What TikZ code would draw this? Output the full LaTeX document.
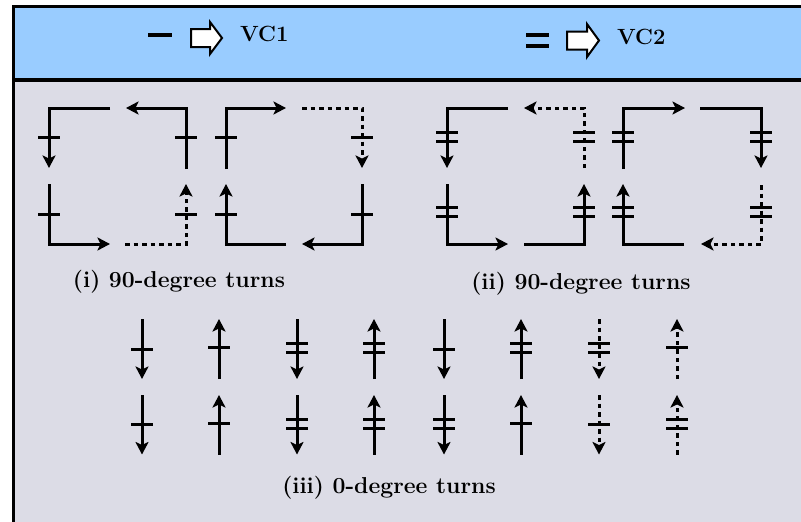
\documentclass[tikz,border=0pt]{standalone}
\usetikzlibrary{arrows.meta}
\definecolor{hdrblue}{RGB}{153,204,255}
\definecolor{bodygrey}{RGB}{220,220,230}
\newcommand{\xone}[2]{\draw[bar] (#1-11,#2) -- (#1+11,#2);}
\newcommand{\xtwo}[2]{\draw[bar] (#1-11,#2-4.6) -- (#1+11,#2-4.6); \draw[bar] (#1-11,#2+4.6) -- (#1+11,#2+4.6);}
\begin{document}
\begin{tikzpicture}[x=1pt,y=-1pt,
  ln/.style={line width=3pt},
  tip/.style={-{Stealth[length=12.5pt,width=13pt,inset=3pt]}},
  dotln/.style={dash pattern=on 4.5pt off 4pt},
  bar/.style={line width=3pt},
  lbl/.style={font=\fontsize{23}{27}\selectfont\bfseries, inner sep=0pt, anchor=base},
  hdr/.style={font=\fontsize{22}{26}\selectfont\bfseries, inner sep=0pt, anchor=base west},
  blockarrow/.style={fill=white, draw=black, line width=2pt, line join=miter}]
\useasboundingbox (0,0) rectangle (801,522);
\clip (0,0) rectangle (801,522);
% frame
\fill[bodygrey] (13.3,80) rectangle (810,530);
\fill[hdrblue] (13.3,6.7) rectangle (810,80);
\draw[line width=3.5pt] (810,6.7) -- (13.3,6.7) -- (13.3,530);
\draw[line width=4pt] (13.3,80) -- (810,80);
% header
\draw[line width=4pt] (148,34.7) -- (172,34.7);
\draw[blockarrow] (191,29) -- (210,29) -- (210,22) -- (222,38) -- (210,54) -- (210,47) -- (191,47) -- cycle;
\node[hdr] (vc1) at (240,41.7) {VC1};
\draw[line width=4pt] (526,35.3) -- (549,35.3);
\draw[line width=4pt] (526,45.5) -- (549,45.5);
\draw[blockarrow] (567,31.5) -- (587,31.5) -- (587,24) -- (599,40.5) -- (587,57) -- (587,49.5) -- (567,49.5) -- cycle;
\node[hdr] (vc2) at (617,45) {VC2};
% square 1
\draw[ln,tip] (110,108) -- (49,108) -- (49,168);
\draw[ln,tip] (186,169) -- (186,108) -- (126,108);
\draw[ln,tip] (49,184) -- (49,244) -- (110,244);
\draw[ln,tip,dotln] (125,244) -- (186,244) -- (186,184);
\xone{49}{137} \xone{186}{137} \xone{49}{214} \xone{186}{214}
% square 2
\draw[ln,tip] (226,169) -- (226,108) -- (286,108);
\draw[ln,tip,dotln] (302,108) -- (362,108) -- (362,168);
\draw[ln,tip] (286,244) -- (226,244) -- (226,184);
\draw[ln,tip] (362,184) -- (362,244) -- (302,244);
\xone{226}{137} \xone{362}{137} \xone{226}{214} \xone{362}{214}
% square 3
\draw[ln,tip] (508,108) -- (447,108) -- (447,168);
\draw[ln,tip,dotln] (584,168) -- (584,108) -- (524,108);
\draw[ln,tip] (447,184) -- (447,244) -- (508,244);
\draw[ln,tip] (524,244) -- (584,244) -- (584,184);
\xtwo{447}{137.2} \xtwo{584}{137.2} \xtwo{447}{212} \xtwo{584}{212}
% square 4
\draw[ln,tip] (623,169) -- (623,108) -- (685,108);
\draw[ln,tip] (700,108) -- (761,108) -- (761,168);
\draw[ln,tip] (684,244) -- (623,244) -- (623,184);
\draw[ln,tip,dotln] (761,185) -- (761,244) -- (701,244);
\xtwo{623}{137.2} \xtwo{761}{137.2} \xtwo{623}{212} \xtwo{761}{212}
% labels
\node[lbl] (l1) at (179,287) {(i) 90-degree turns};
\node[lbl] (l2) at (581,289) {(ii) 90-degree turns};
\node[lbl] (l3) at (389,493.3) {(iii) 0-degree turns};
% row 1
\draw[ln,tip] (142,319) -- (142,379); \xone{142}{349}
\draw[ln,tip] (219,379) -- (219,319); \xone{219}{347.5}
\draw[ln,tip] (297,319) -- (297,379); \xtwo{297}{348}
\draw[ln,tip] (374,379) -- (374,319); \xtwo{374}{348}
\draw[ln,tip] (444,319) -- (444,379); \xone{444}{349}
\draw[ln,tip] (521,379) -- (521,319); \xtwo{521}{348}
\draw[ln,tip,dotln] (599,319) -- (599,379); \xtwo{599}{348}
\draw[ln,tip,dotln] (677,379) -- (677,319); \xone{677}{347.5}
% row 2
\draw[ln,tip] (142,395) -- (142,454.5); \xone{142}{424.5}
\draw[ln,tip] (219,454.5) -- (219,395); \xone{219}{423}
\draw[ln,tip] (297,395) -- (297,454.5); \xtwo{297}{423.7}
\draw[ln,tip] (374,454.5) -- (374,395); \xtwo{374}{423.7}
\draw[ln,tip] (444,395) -- (444,454.5); \xtwo{444}{423.7}
\draw[ln,tip] (521,454.5) -- (521,395); \xone{521}{423}
\draw[ln,tip,dotln] (599,395) -- (599,454.5); \xone{599}{424.5}
\draw[ln,tip,dotln] (677,454.5) -- (677,395); \xtwo{677}{423.7}
\end{tikzpicture}
\end{document}
